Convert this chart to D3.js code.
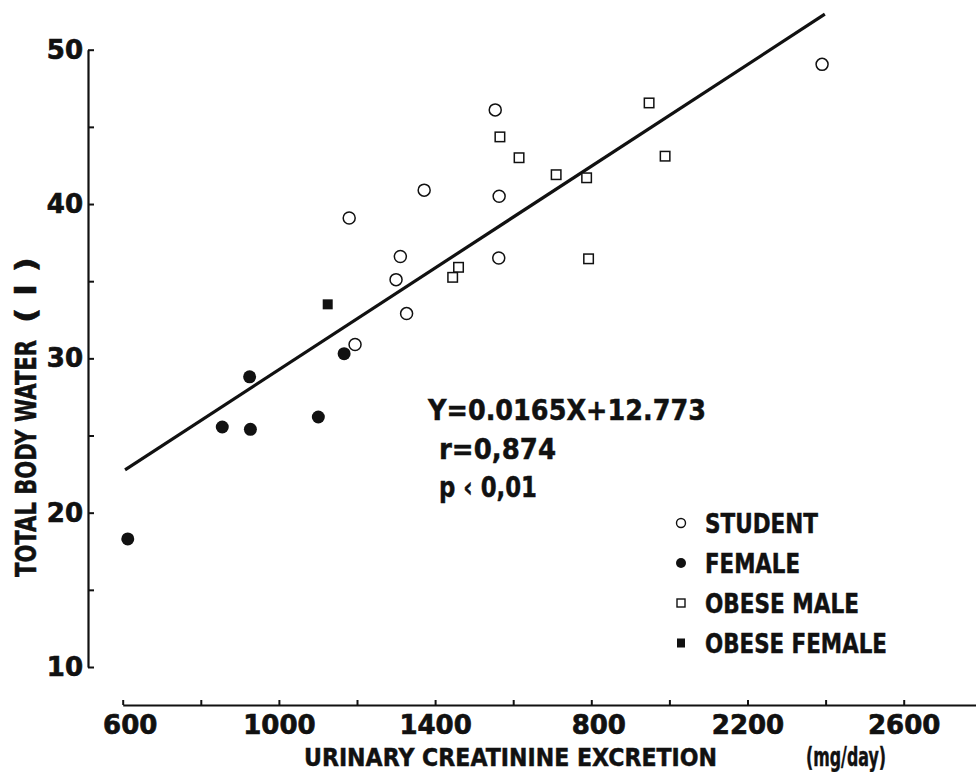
<!DOCTYPE html>
<html>
<head>
<meta charset="utf-8">
<script src="https://cdn.jsdelivr.net/npm/d3@7"></script>
<style>
  html, body { margin: 0; padding: 0; background: #fff; }
  svg { display: block; }
  .num { font-family: "DejaVu Sans", sans-serif; font-weight: bold; }
  .cond { font-family: "DejaVu Sans", sans-serif; font-weight: bold; stroke: #111; stroke-width: 0.5px; }
</style>
</head>
<body>
<script>
// ---- data ----
const studentX = [1180, 1372, 1564, 1311, 1300, 1327, 1563, 1554, 1195, 2391];
const studentY = [39.1, 40.9, 40.5, 36.6, 35.1, 32.9, 36.5, 46.1, 30.9, 49.05];

const femaleX = [613, 855, 925, 927, 1101, 1167];
const femaleY = [18.3, 25.55, 28.8, 25.4, 26.2, 30.3];

const obeseMaleX = [1460, 1445, 1566, 1615, 1710, 1788, 1793, 1948, 1989];
const obeseMaleY = [35.9, 35.25, 44.35, 43.0, 41.9, 41.7, 36.45, 46.55, 43.1];

const obeseFemaleX = [1125];
const obeseFemaleY = [33.5];

const lineX = [606, 2398];
const lineY = [22.77, 52.3];

const xTickValues = [600, 800, 1000, 1200, 1400, 1600, 1800, 2000, 2200, 2400, 2600];
const xLabelValues = [600, 1000, 1400, 1800, 2200, 2600];
const xLabelTexts = ["600", "1000", "1400", "800", "2200", "2600"];
const yTickValues = [10, 15, 20, 25, 30, 35, 40, 45, 50];
const yLabelValues = [10, 20, 30, 40, 50];

const legendLabels = ["STUDENT", "FEMALE", "OBESE MALE", "OBESE FEMALE"];
const statLines = ["Y=0.0165X+12.773", "r=0,874", "p \u2039 0,01"];
const xTitle = "URINARY CREATININE EXCRETION";
const xUnit = "(mg/day)";
const yTitle = "TOTAL BODY WATER";
const yUnit = "( l )";

// ---- drawing ----
const W = 976, H = 772;
const svg = d3.select("body").append("svg").attr("width", W).attr("height", H);
svg.append("rect").attr("width", W).attr("height", H).attr("fill", "#fff");

const x = d3.scaleLinear().domain([600, 2800]).range([122.7, 981.8]);
const y = d3.scaleLinear().domain([10, 50]).range([667, 49.7]);
const ink = "#111";

// x axis
const xAxis = d3.axisBottom(x)
  .tickValues(xTickValues)
  .tickSizeInner(-5).tickSizeOuter(0).tickPadding(11)
  .tickFormat(d => { const i = xLabelValues.indexOf(d); return i >= 0 ? xLabelTexts[i] : ""; });
const gx = svg.append("g").attr("transform", "translate(0,705)").call(xAxis);
gx.attr("font-family", null).attr("font-size", null);
gx.select(".domain").attr("stroke", ink).attr("stroke-width", 2.2);
gx.selectAll(".tick line").attr("stroke", ink).attr("stroke-width", 2);
gx.selectAll(".tick text").attr("class", "num").attr("font-size", 26).attr("fill", ink)
  .attr("stroke", ink).attr("stroke-width", 0.7)
  .attr("dx", d => d === 600 ? 7 : (d === 1800 ? 7 : 0));

// y axis
const yAxis = d3.axisLeft(y)
  .tickValues(yTickValues)
  .tickSizeInner(-6).tickSizeOuter(0).tickPadding(5)
  .tickFormat(d => yLabelValues.includes(d) ? String(d) : "");
const gy = svg.append("g").attr("transform", "translate(88,0)").call(yAxis);
gy.attr("font-family", null).attr("font-size", null);
gy.select(".domain").attr("stroke", ink).attr("stroke-width", 2.2);
gy.selectAll(".tick line").attr("stroke", ink).attr("stroke-width", 2);
gy.selectAll(".tick text").attr("class", "num").attr("font-size", 26).attr("fill", ink)
  .attr("stroke", ink).attr("stroke-width", 0.7);

// regression line
svg.append("path")
  .datum(lineX.map((v, i) => [v, lineY[i]]))
  .attr("d", d3.line().x(d => x(d[0])).y(d => y(d[1])))
  .attr("fill", "none").attr("stroke", ink).attr("stroke-width", 3.2);

// points
function circles(xs, ys, filled) {
  svg.append("g").selectAll("circle").data(xs.map((v, i) => [v, ys[i]])).join("circle")
    .attr("cx", d => x(d[0])).attr("cy", d => y(d[1]))
    .attr("r", filled ? 6.5 : 6)
    .attr("fill", filled ? ink : "#fff")
    .attr("stroke", ink).attr("stroke-width", filled ? 0 : 1.5);
}
function squares(xs, ys, filled) {
  const s = filled ? 10 : 9.5;
  svg.append("g").selectAll("rect").data(xs.map((v, i) => [v, ys[i]])).join("rect")
    .attr("x", d => x(d[0]) - s / 2).attr("y", d => y(d[1]) - s / 2)
    .attr("width", s).attr("height", s)
    .attr("fill", filled ? ink : "#fff")
    .attr("stroke", ink).attr("stroke-width", filled ? 0 : 1.5);
}
circles(studentX, studentY, false);
circles(femaleX, femaleY, true);
squares(obeseMaleX, obeseMaleY, false);
squares(obeseFemaleX, obeseFemaleY, true);

// statistics text
const statPos = [[428, 420, 278], [439, 459, 117], [439, 497, 98]];
statLines.forEach((t, i) => {
  svg.append("text").attr("class", "cond")
    .attr("x", statPos[i][0]).attr("y", statPos[i][1])
    .attr("font-size", 29).attr("fill", ink)
    .attr("textLength", statPos[i][2]).attr("lengthAdjust", "spacingAndGlyphs")
    .text(t);
});

// legend
const legY = [523, 563, 603, 643];
const legW = [113, 95, 154, 182];
legendLabels.forEach((t, i) => {
  const cy = legY[i];
  if (i === 0) svg.append("circle").attr("cx", 681).attr("cy", cy).attr("r", 4.5).attr("fill", "#fff").attr("stroke", ink).attr("stroke-width", 1.4);
  if (i === 1) svg.append("circle").attr("cx", 681).attr("cy", cy).attr("r", 5).attr("fill", ink);
  if (i === 2) svg.append("rect").attr("x", 677).attr("y", cy - 4).attr("width", 8).attr("height", 8).attr("fill", "#fff").attr("stroke", ink).attr("stroke-width", 1.4);
  if (i === 3) svg.append("rect").attr("x", 677).attr("y", cy - 4.5).attr("width", 8).attr("height", 9).attr("fill", ink);
  svg.append("text").attr("class", "cond")
    .attr("x", 705).attr("y", cy + 10)
    .attr("font-size", 27).attr("fill", ink)
    .attr("textLength", legW[i]).attr("lengthAdjust", "spacingAndGlyphs")
    .text(t);
});

// axis titles
svg.append("text").attr("class", "cond")
  .attr("x", 304).attr("y", 766).attr("font-size", 25).attr("fill", ink)
  .attr("textLength", 413).attr("lengthAdjust", "spacingAndGlyphs")
  .text(xTitle);
svg.append("text").attr("class", "cond")
  .attr("x", 806).attr("y", 766).attr("font-size", 27).attr("fill", ink)
  .attr("textLength", 80).attr("lengthAdjust", "spacingAndGlyphs")
  .text(xUnit);

svg.append("text").attr("class", "cond")
  .attr("transform", "translate(36,577) rotate(-90)")
  .attr("font-size", 28).attr("fill", ink)
  .attr("textLength", 237).attr("lengthAdjust", "spacingAndGlyphs")
  .text(yTitle);
svg.append("text").attr("class", "cond")
  .attr("transform", "translate(36,323) rotate(-90)")
  .attr("font-size", 28).attr("fill", ink)
  .attr("textLength", 66).attr("lengthAdjust", "spacingAndGlyphs")
  .style("white-space", "pre")
  .text(yUnit);
</script>
</body>
</html>
